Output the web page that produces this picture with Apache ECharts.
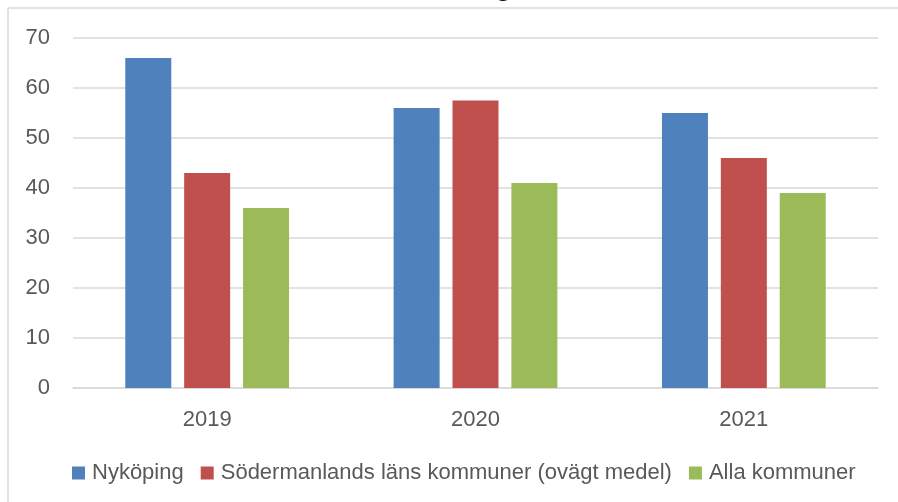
<!DOCTYPE html>
<html>
<head>
<meta charset="utf-8">
<script src="https://cdn.jsdelivr.net/npm/echarts@6/dist/echarts.min.js"></script>
<style>
  html, body { margin: 0; padding: 0; background: #fff; }
  #chart { width: 898px; height: 502px; }
</style>
</head>
<body>
<div id="chart"></div>
<script>
const years = ['2019', '2020', '2021'];
const nykoping = [66, 56, 55];
const sodermanland = [43, 57.5, 46];
const allaKommuner = [36, 41, 39];
const yTicks = [0, 10, 20, 30, 40, 50, 60, 70];

const labelColor = '#595959';
const font = '"Liberation Sans", Arial, sans-serif';

const chart = echarts.init(document.getElementById('chart'));

const barSeries = (name, data, color) => ({
  name,
  type: 'bar',
  data,
  barWidth: 46,
  barGap: '28%',
  itemStyle: { color },
});

chart.setOption({
  animation: false,
  textStyle: { fontFamily: font },
  graphic: [
    // frame of the original picture (cut at right and bottom)
    { type: 'line', shape: { x1: 8, y1: 8, x2: 898, y2: 8 }, style: { stroke: '#d9d9d9', lineWidth: 1.5 } },
    { type: 'line', shape: { x1: 8, y1: 8, x2: 8, y2: 502 }, style: { stroke: '#d9d9d9', lineWidth: 1.5 } },
    // descender of the cut-off title
    {
      type: 'text', left: 495, top: -27,
      style: { text: 'g', font: 'bold 28px ' + font, fill: '#000' },
    },
  ],
  grid: { left: 73, right: 20, top: 38, bottom: 114 },
  legend: {
    bottom: 18,
    left: 72,
    padding: 0,
    itemWidth: 13,
    itemHeight: 13,
    itemGap: 17,
    icon: 'rect',
    textStyle: { color: labelColor, fontSize: 22, fontFamily: font, padding: [0, 0, 0, 2] },
    data: ['Nyköping', 'Södermanlands läns kommuner (ovägt medel)', 'Alla kommuner'],
  },
  xAxis: {
    type: 'category',
    data: years,
    axisLine: { lineStyle: { color: '#d9d9d9', width: 1.5 } },
    axisTick: { show: false },
    axisLabel: { color: labelColor, fontSize: 22, margin: 21 },
  },
  yAxis: {
    type: 'value',
    min: yTicks[0],
    max: yTicks[yTicks.length - 1],
    interval: 10,
    axisLine: { show: false },
    axisTick: { show: false },
    axisLabel: { color: labelColor, fontSize: 22, margin: 23 },
    splitLine: { lineStyle: { color: '#d9d9d9', width: 1.5 } },
  },
  series: [
    barSeries('Nyköping', nykoping, '#4f81bd'),
    barSeries('Södermanlands läns kommuner (ovägt medel)', sodermanland, '#c0504d'),
    barSeries('Alla kommuner', allaKommuner, '#9bbb59'),
  ],
});
</script>
</body>
</html>
